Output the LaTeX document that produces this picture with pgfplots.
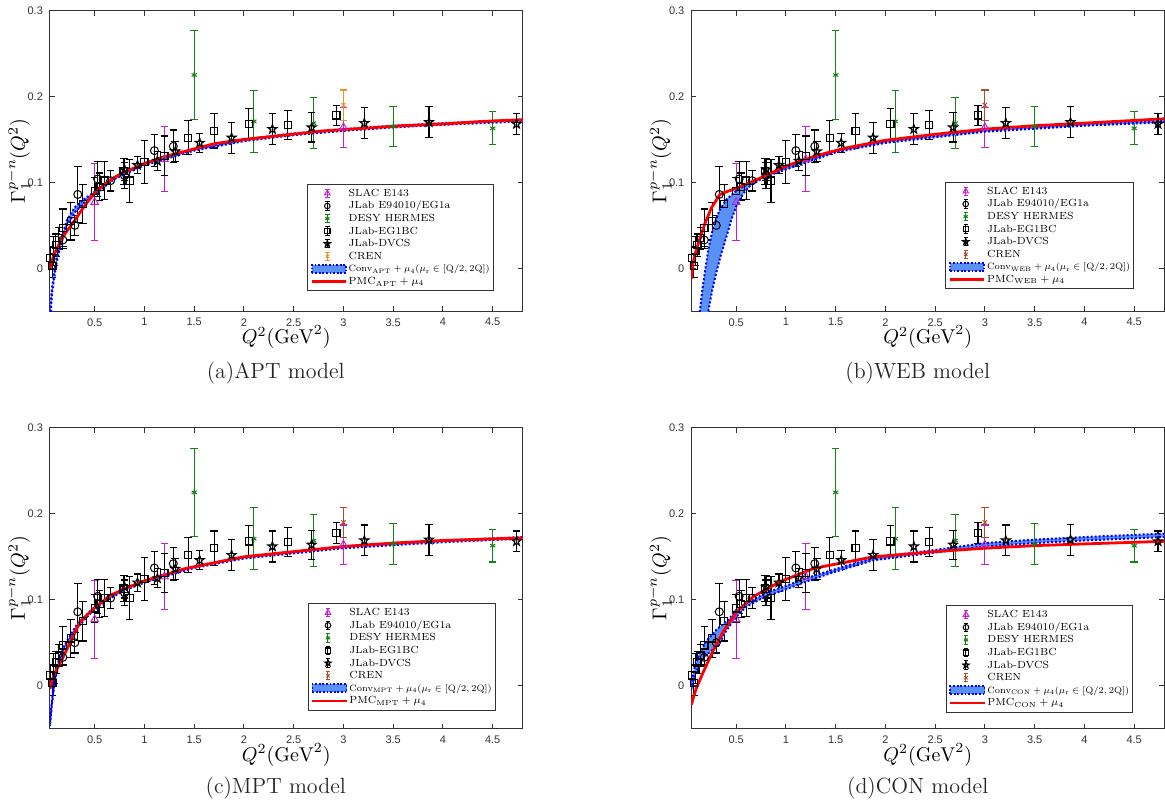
\RequirePackage{fix-cm}
\documentclass[border=0pt]{standalone}
\usepackage{graphicx}
\usepackage{pgfplots}
\pgfplotsset{compat=1.18}
\usepackage{pgfplotstable}
\usepackage{fontspec}
\newfontfamily\tickfont{Liberation Sans}
\newcommand\ticksf{\tickfont\fontsize{5.5}{6.5}\selectfont}
\newcommand\legtxt[1]{\scalebox{0.7}{#1}}
\newcommand\legtxtc[1]{\scalebox{0.62}{#1}}

\definecolor{slacm}{RGB}{200,30,200}
\definecolor{desyg}{RGB}{20,130,20}
\definecolor{crenA}{RGB}{232,150,40}
\definecolor{crenB}{RGB}{170,80,40}
\definecolor{bandfill}{RGB}{90,145,245}
\definecolor{bandedge}{RGB}{0,0,255}
\definecolor{pmcred}{RGB}{255,0,0}

\pgfdeclareplotmark{pentagram}{%
  \pgfpathmoveto{\pgfpointpolar{90}{\pgfplotmarksize}}%
  \pgfpathlineto{\pgfpointpolar{126}{0.4\pgfplotmarksize}}%
  \pgfpathlineto{\pgfpointpolar{162}{\pgfplotmarksize}}%
  \pgfpathlineto{\pgfpointpolar{198}{0.4\pgfplotmarksize}}%
  \pgfpathlineto{\pgfpointpolar{234}{\pgfplotmarksize}}%
  \pgfpathlineto{\pgfpointpolar{270}{0.4\pgfplotmarksize}}%
  \pgfpathlineto{\pgfpointpolar{306}{\pgfplotmarksize}}%
  \pgfpathlineto{\pgfpointpolar{342}{0.4\pgfplotmarksize}}%
  \pgfpathlineto{\pgfpointpolar{18}{\pgfplotmarksize}}%
  \pgfpathlineto{\pgfpointpolar{54}{0.4\pgfplotmarksize}}%
  \pgfpathclose
  \pgfusepathqstroke}

% ---------------- experimental data: x  y  error ----------------
\pgfplotstableread{
x y e
0.5 0.077 0.045
1.2 0.127 0.038
3.0 0.164 0.023
}\slac
\pgfplotstableread{
x y e
0.18 0.033 0.010
0.30 0.050 0.012
0.33 0.086 0.033
0.53 0.104 0.020
0.66 0.102 0.012
0.80 0.108 0.015
1.10 0.137 0.019
1.29 0.142 0.019
}\eoneA
\pgfplotstableread{
x y e
1.5 0.225 0.0515
2.1 0.171 0.036
2.7 0.169 0.030
3.5 0.165 0.0235
4.5 0.163 0.019
}\desy
\pgfplotstableread{
x y e
0.055 0.012 0.013
0.075 0.003 0.014
0.09 0.020 0.017
0.11 0.027 0.013
0.14 0.035 0.013
0.18 0.047 0.022
0.26 0.055 0.022
0.38 0.075 0.023
0.50 0.090 0.016
0.55 0.095 0.016
0.60 0.102 0.022
0.79 0.113 0.015
0.85 0.102 0.025
1.00 0.124 0.025
1.20 0.131 0.023
1.44 0.152 0.020
1.70 0.160 0.020
2.05 0.168 0.018
2.44 0.167 0.017
2.93 0.178 0.012
}\egbc
\pgfplotstableread{
x y e
0.80 0.115 0.013
0.93 0.120 0.010
1.13 0.125 0.011
1.31 0.136 0.012
1.555 0.146 0.011
1.876 0.152 0.018
2.286 0.162 0.018
2.68 0.164 0.017
3.21 0.169 0.018
3.86 0.170 0.018
4.74 0.168 0.012
}\dvcs
\pgfplotstableread{
x y e
3.0 0.190 0.0175
}\cren

% ---------------- PMC curves ----------------
\pgfplotstableread{
x y
0.05 0.000
0.08 0.012
0.10 0.018
0.15 0.030
0.20 0.040
0.30 0.056
0.40 0.073
0.50 0.088
0.60 0.098
0.70 0.106
0.80 0.112
1.00 0.122
1.20 0.130
1.40 0.136
1.70 0.145
2.00 0.150
2.40 0.155
2.80 0.160
3.20 0.163
3.60 0.166
4.00 0.168
4.40 0.171
4.80 0.173
}\pmcA
\pgfplotstableread{
x y
0.05 -0.012
0.068 0.007
0.10 0.022
0.134 0.034
0.185 0.052
0.25 0.070
0.336 0.086
0.40 0.089
0.50 0.093
0.60 0.098
0.80 0.108
1.00 0.119
1.30 0.131
1.60 0.140
2.00 0.149
2.50 0.156
3.00 0.162
3.50 0.166
4.00 0.169
4.80 0.174
}\pmcB
\pgfplotstableread{
x y
0.05 -0.004
0.07 0.006
0.104 0.016
0.17 0.030
0.255 0.051
0.355 0.0745
0.49 0.090
0.66 0.105
0.80 0.113
1.00 0.122
1.40 0.136
2.00 0.150
2.50 0.156
3.00 0.162
3.50 0.166
4.00 0.169
4.80 0.172
}\pmcC
\pgfplotstableread{
x y
0.05 -0.022
0.075 -0.012
0.10 -0.003
0.17 0.016
0.26 0.039
0.37 0.063
0.505 0.086
0.67 0.1035
0.94 0.121
1.28 0.1365
1.88 0.150
2.50 0.156
3.00 0.160
3.50 0.163
4.00 0.165
4.80 0.168
}\pmcD

% ---------------- Conv bands (upper edge forward, lower edge back) ----------------
\pgfplotstableread{
x y
0.050 -0.050
0.070 -0.024
0.087 -0.010
0.114 0.011
0.154 0.031
0.22 0.056
0.30 0.071
0.40 0.081
0.50 0.089
0.70 0.106
1.00 0.122
1.50 0.139
2.00 0.150
2.50 0.157
3.00 0.162
3.50 0.166
4.00 0.169
4.80 0.173
4.80 0.171
4.00 0.167
3.50 0.164
3.00 0.160
2.50 0.155
2.00 0.148
1.50 0.137
1.00 0.120
0.70 0.104
0.50 0.086
0.40 0.077
0.30 0.065
0.22 0.050
0.154 0.025
0.114 0.005
0.087 -0.016
0.070 -0.030
0.056 -0.060
0.050 -0.060
0.050 -0.050
}\bandA
\pgfplotstableread{
x y
0.125 -0.060
0.135 -0.050
0.16 -0.025
0.185 -0.005
0.22 0.022
0.27 0.048
0.33 0.067
0.40 0.080
0.50 0.090
0.60 0.097
0.80 0.108
1.00 0.118
1.50 0.137
2.00 0.148
3.00 0.161
4.00 0.168
4.80 0.172
4.80 0.170
4.00 0.166
3.00 0.159
2.00 0.146
1.50 0.135
1.00 0.115
0.90 0.111
0.75 0.104
0.64 0.096
0.57 0.087
0.50 0.072
0.45 0.056
0.40 0.036
0.35 0.017
0.30 -0.005
0.26 -0.025
0.22 -0.050
0.21 -0.060
0.125 -0.060
}\bandB
\pgfplotstableread{
x y
0.050 -0.042
0.070 -0.018
0.094 0.005
0.137 0.029
0.20 0.048
0.32 0.071
0.456 0.087
0.60 0.100
0.80 0.113
1.00 0.122
1.50 0.139
2.00 0.150
3.00 0.162
4.00 0.169
4.80 0.173
4.80 0.171
4.00 0.167
3.00 0.160
2.00 0.148
1.50 0.137
1.00 0.120
0.80 0.111
0.60 0.098
0.456 0.084
0.32 0.067
0.20 0.044
0.137 0.025
0.094 0.001
0.070 -0.022
0.050 -0.047
0.050 -0.042
}\bandC
\pgfplotstableread{
x y
0.050 0.006
0.070 0.015
0.085 0.022
0.13 0.037
0.20 0.052
0.30 0.065
0.42 0.0765
0.50 0.088
0.60 0.096
0.80 0.108
1.00 0.116
1.20 0.125
1.45 0.134
1.88 0.149
2.50 0.158
3.00 0.166
3.50 0.170
4.00 0.173
4.80 0.177
4.80 0.173
4.00 0.169
3.50 0.166
3.00 0.162
2.50 0.155
1.88 0.146
1.45 0.131
1.20 0.121
1.00 0.112
0.80 0.104
0.60 0.092
0.50 0.080
0.40 0.064
0.32 0.0465
0.20 0.036
0.13 0.025
0.085 0.012
0.070 0.005
0.050 -0.003
0.050 0.006
}\bandD

\pgfplotsset{
  ebleg/.style n args={2}{legend image code/.code={%
     \path[draw=none,fill=none] (0pt,-2.4pt) rectangle (17.7pt,2.4pt);
     \draw[#1, line width=0.5pt, fill=none] (8.2pt,-2.1pt) -- (8.2pt,2.1pt)
        (7.1pt,-2.1pt) -- (9.3pt,-2.1pt) (7.1pt,2.1pt) -- (9.3pt,2.1pt);
     \draw[#1, line width=0.5pt, #2] plot coordinates {(8.2pt,0pt)};}},
  ebar/.style={error bars/.cd, y dir=both, y explicit,
     error bar style={line width=0.55pt},
     error mark options={rotate=90, line width=0.55pt, mark size=1.9pt}},
  panel/.style={
    scale only axis, width=236.5pt, height=150.5pt,
    xmin=0.05, xmax=4.8, ymin=-0.05, ymax=0.3,
    xtick={0.5,1,1.5,2,2.5,3,3.5,4,4.5}, ytick={0,0.1,0.2,0.3},
    tick align=inside, major tick length=2.5pt,
    axis line style={draw=black!80, line width=0.5pt},
    tick style={draw=black!80, line width=0.5pt},
    tick label style={font=\ticksf, text=black!80},
    /pgf/number format/assume math mode=true,
    label style={font=\fontsize{7}{8}\selectfont, text=black!85},
    xlabel={$Q^2(\mathrm{GeV}^2)$},
    ylabel={$\Gamma_1^{p-n}(Q^2)$},
    every axis x label/.style={at={([yshift=-13pt]axis description cs:0.5,0)}, anchor=center},
    every axis y label/.style={at={([xshift=-15.75pt]axis description cs:0,0.5)}, anchor=center, rotate=90},
    legend cell align=left,
    legend style={draw=black!80, line width=0.5pt, fill=white,
      anchor=south east, inner xsep=1.5pt, inner ysep=1.5pt,
      row sep=0pt, column sep=0.6pt,
      font=\fontsize{7.4}{8}\selectfont,
      nodes={inner sep=0.2pt, text height=4.4pt, text depth=1.5pt}},
  },
}

% data plots; #1 = colour of CREN
\newcommand\dataplots[1]{%
  \addplot[slacm, only marks, mark=triangle, mark size=2.2pt, mark options={line width=0.5pt},
    ebleg={slacm}{mark=triangle,mark size=1.6pt}, ebar]
    table[x=x,y=y,y error=e]{\slac};
  \addlegendentry{\legtxt{SLAC E143}}
  \addplot[black, only marks, mark=o, mark size=2pt, mark options={line width=0.5pt},
    ebleg={black}{mark=o,mark size=1.4pt}, ebar]
    table[x=x,y=y,y error=e]{\eoneA};
  \addlegendentry{\legtxt{JLab E94010/EG1a}}
  \addplot[desyg, only marks, mark=asterisk, mark size=1.5pt, mark options={line width=0.5pt},
    ebleg={desyg}{mark=asterisk,mark size=1.2pt}, ebar]
    table[x=x,y=y,y error=e]{\desy};
  \addlegendentry{\legtxt{DESY HERMES}}
  \addplot[black, only marks, mark=square, mark size=1.8pt, mark options={line width=0.6pt},
    ebleg={black}{mark=square,mark size=1.3pt}, ebar]
    table[x=x,y=y,y error=e]{\egbc};
  \addlegendentry{\legtxt{JLab-EG1BC}}
  \addplot[black, only marks, mark=pentagram, mark size=2.3pt, mark options={line width=0.6pt},
    ebleg={black}{mark=pentagram,mark size=1.6pt}, ebar]
    table[x=x,y=y,y error=e]{\dvcs};
  \addlegendentry{\legtxt{JLab-DVCS}}
  \addplot[#1, only marks, mark=x, mark size=1.5pt, mark options={line width=0.5pt},
    ebleg={#1}{mark=x,mark size=1.2pt}, ebar]
    table[x=x,y=y,y error=e]{\cren};
  \addlegendentry{\legtxt{CREN}}
}
% #1 band table, #2 pmc table, #3 model name
\newcommand\curveplots[3]{%
  \addplot[fill=bandfill, draw=bandedge, line width=1pt, dash pattern=on 1pt off 1pt,
    legend image code/.code={\draw[fill=bandfill, draw=bandedge, line width=0.9pt, dash pattern=on 0.9pt off 0.9pt] (0.4pt,-2pt) rectangle (17.5pt,2pt);}]
    table[x=x,y=y]{#1};
  \addlegendentry{\legtxtc{Conv$_{\mathrm{#3}}+\mu_4(\mu_{\mathrm{r}}\in[\mathrm{Q}/2,2\mathrm{Q}])$}}
  \addplot[pmcred, line width=1.4pt,
    legend image code/.code={\draw[pmcred, line width=1.2pt] (0.4pt,0pt) -- (17.5pt,0pt);}]
    table[x=x,y=y]{#2};
  \addlegendentry{\legtxt{PMC$_{\mathrm{#3}}+\mu_4$}}
}

\begin{document}
\begin{tikzpicture}
\path (0pt,0pt) rectangle (582.5pt,402pt);

\begin{axis}[panel, at={(24.5pt,249pt)}, anchor=south west,
  legend style={at={([xshift=-14.5pt,yshift=10pt]axis description cs:1,0)}}]
  \dataplots{crenA}
  \curveplots{\bandA}{\pmcA}{APT}
\end{axis}

\begin{axis}[panel, at={(345.5pt,249pt)}, anchor=south west,
  legend style={at={([xshift=-15pt,yshift=11pt]axis description cs:1,0)}}]
  \dataplots{crenB}
  \curveplots{\bandB}{\pmcB}{WEB}
\end{axis}

\begin{axis}[panel, at={(24.5pt,40.15pt)}, anchor=south west,
  legend style={at={([xshift=-13.5pt,yshift=9pt]axis description cs:1,0)}}]
  \dataplots{crenB}
  \curveplots{\bandC}{\pmcC}{MPT}
\end{axis}

\begin{axis}[panel, at={(345.5pt,40.15pt)}, anchor=south west,
  legend style={at={([xshift=-15.5pt,yshift=8pt]axis description cs:1,0)}}]
  \dataplots{crenB}
  \curveplots{\bandD}{\pmcD}{CON}
\end{axis}

\node[font=\fontsize{11}{13}\selectfont, text=black!85] at (137.5pt,218pt) {(a)APT model};
\node[font=\fontsize{11}{13}\selectfont, text=black!85] at (458.75pt,218pt) {(b)WEB model};
\node[font=\fontsize{11}{13}\selectfont, text=black!85] at (137.5pt,10.5pt) {(c)MPT model};
\node[font=\fontsize{11}{13}\selectfont, text=black!85] at (458.75pt,10.5pt) {(d)CON model};
\end{tikzpicture}
\end{document}
